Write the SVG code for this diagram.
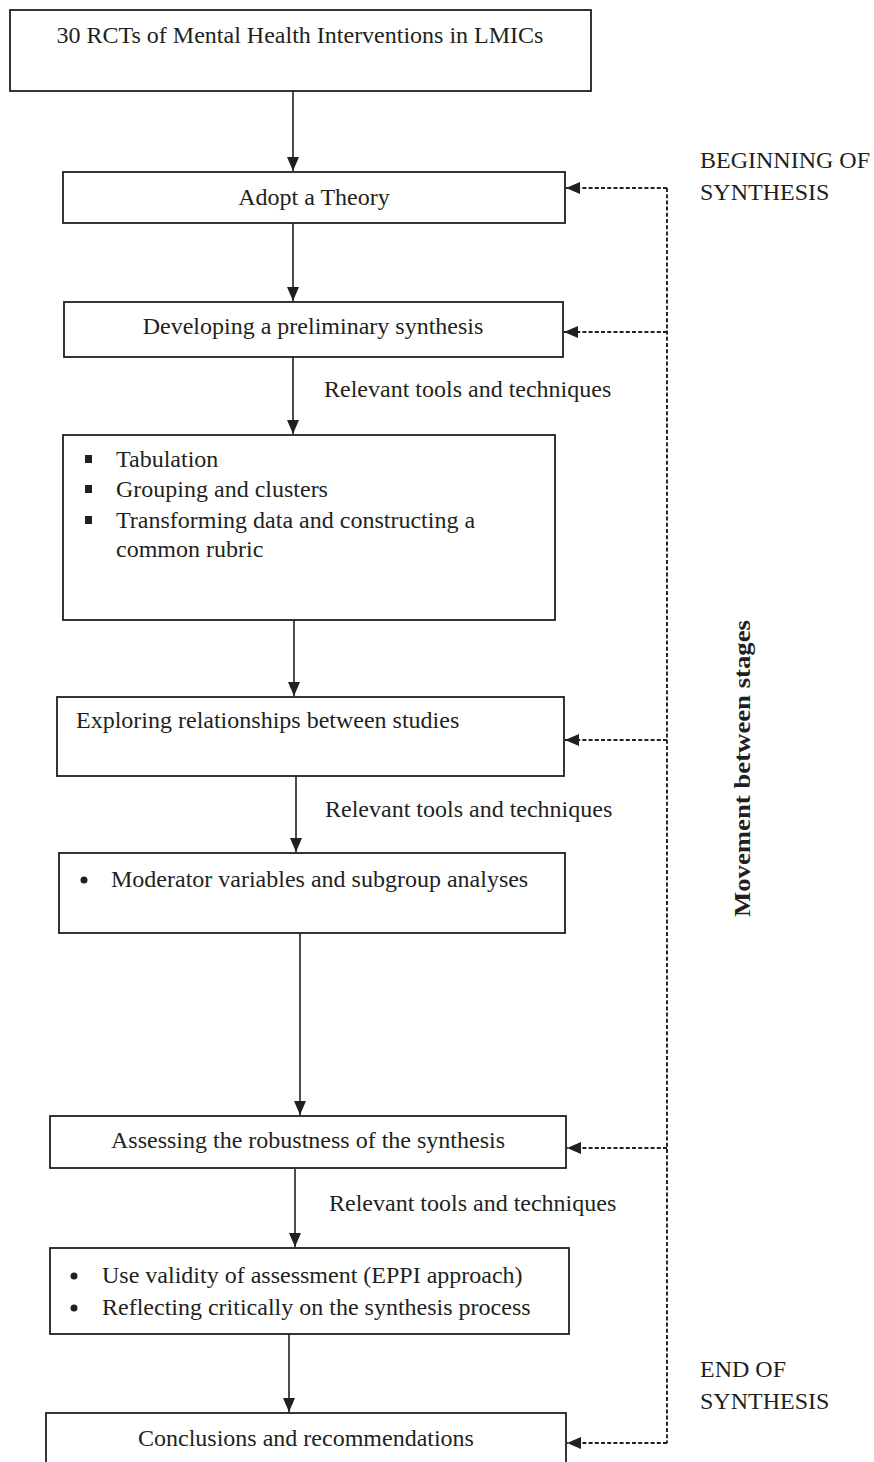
<svg xmlns="http://www.w3.org/2000/svg" width="874" height="1462" viewBox="0 0 874 1462">
<style>
.box{fill:#fff;stroke:#231f20;stroke-width:1.8}
.t{font-family:"Liberation Serif","Times New Roman",serif;font-size:24px;fill:#231f20}
.c{text-anchor:middle}
.ln{stroke:#231f20;stroke-width:1.6;fill:none}
.dl{stroke:#231f20;stroke-width:1.9;fill:none;stroke-dasharray:4 2.2}
</style>
<defs>
<marker id="ah" markerUnits="userSpaceOnUse" markerWidth="14" markerHeight="12" refX="14" refY="6" orient="auto"><path d="M0,0 L14,6 L0,12 z" fill="#231f20"/></marker>
</defs>
<rect width="874" height="1462" fill="#fff"/>
<g id="connectors">
<line class="ln" x1="293" y1="91" x2="293" y2="171" marker-end="url(#ah)"/>
<line class="ln" x1="293" y1="223" x2="293" y2="301" marker-end="url(#ah)"/>
<line class="ln" x1="293" y1="357" x2="293" y2="434" marker-end="url(#ah)"/>
<line class="ln" x1="294" y1="620" x2="294" y2="696" marker-end="url(#ah)"/>
<line class="ln" x1="296" y1="776" x2="296" y2="852" marker-end="url(#ah)"/>
<line class="ln" x1="300" y1="933" x2="300" y2="1115" marker-end="url(#ah)"/>
<line class="ln" x1="295" y1="1169" x2="295" y2="1247" marker-end="url(#ah)"/>
<line class="ln" x1="289" y1="1334" x2="289" y2="1412" marker-end="url(#ah)"/>
<line class="dl" x1="667" y1="188" x2="667" y2="1443"/>
<line class="dl" x1="667" y1="188" x2="566" y2="188" marker-end="url(#ah)"/>
<line class="dl" x1="667" y1="332" x2="564" y2="332" marker-end="url(#ah)"/>
<line class="dl" x1="667" y1="740" x2="565" y2="740" marker-end="url(#ah)"/>
<line class="dl" x1="667" y1="1148" x2="567" y2="1148" marker-end="url(#ah)"/>
<line class="dl" x1="667" y1="1443" x2="567" y2="1443" marker-end="url(#ah)"/>
</g>
<g id="n1"><rect class="box" x="10" y="10" width="581" height="81"/><text class="t c" x="300" y="43">30 RCTs of Mental Health Interventions in LMICs</text></g>
<g id="n2"><rect class="box" x="63" y="172" width="502" height="51"/><text class="t c" x="314" y="205">Adopt a Theory</text></g>
<g id="n3"><rect class="box" x="64" y="302" width="499" height="55"/><text class="t c" x="313" y="334">Developing a preliminary synthesis</text></g>
<g id="n4"><rect class="box" x="63" y="435" width="492" height="185"/>
<rect x="85" y="455" width="7" height="8" fill="#231f20"/><text class="t" x="116" y="467">Tabulation</text>
<rect x="85" y="485" width="7" height="8" fill="#231f20"/><text class="t" x="116" y="497">Grouping and clusters</text>
<rect x="85" y="516" width="7" height="8" fill="#231f20"/><text class="t" x="116" y="528">Transforming data and constructing a</text>
<text class="t" x="116" y="557">common rubric</text></g>
<g id="n5"><rect class="box" x="57" y="697" width="507" height="79"/><text class="t" x="76" y="728">Exploring relationships between studies</text></g>
<g id="n6"><rect class="box" x="59" y="853" width="506" height="80"/><circle cx="84" cy="880" r="3.5" fill="#231f20"/><text class="t" x="111" y="887">Moderator variables and subgroup analyses</text></g>
<g id="n7"><rect class="box" x="50" y="1116" width="516" height="52"/><text class="t c" x="308" y="1148">Assessing the robustness of the synthesis</text></g>
<g id="n8"><rect class="box" x="50" y="1248" width="519" height="86"/>
<circle cx="74" cy="1276" r="3.5" fill="#231f20"/><text class="t" x="102" y="1283">Use validity of assessment (EPPI approach)</text>
<circle cx="74" cy="1308" r="3.5" fill="#231f20"/><text class="t" x="102" y="1315">Reflecting critically on the synthesis process</text></g>
<g id="n9"><rect class="box" x="46" y="1413" width="520" height="70"/><text class="t c" x="306" y="1446">Conclusions and recommendations</text></g>
<g id="labels">
<text class="t" x="324" y="397">Relevant tools and techniques</text>
<text class="t" x="325" y="817">Relevant tools and techniques</text>
<text class="t" x="329" y="1211">Relevant tools and techniques</text>
<text class="t" x="700" y="168">BEGINNING OF</text>
<text class="t" x="700" y="200">SYNTHESIS</text>
<text class="t" x="700" y="1377">END OF</text>
<text class="t" x="700" y="1409">SYNTHESIS</text>
<text class="t" x="0" y="0" font-weight="bold" font-size="27" textLength="297" lengthAdjust="spacingAndGlyphs" transform="translate(750,917) rotate(-90)">Movement between stages</text>
</g>
</svg>
